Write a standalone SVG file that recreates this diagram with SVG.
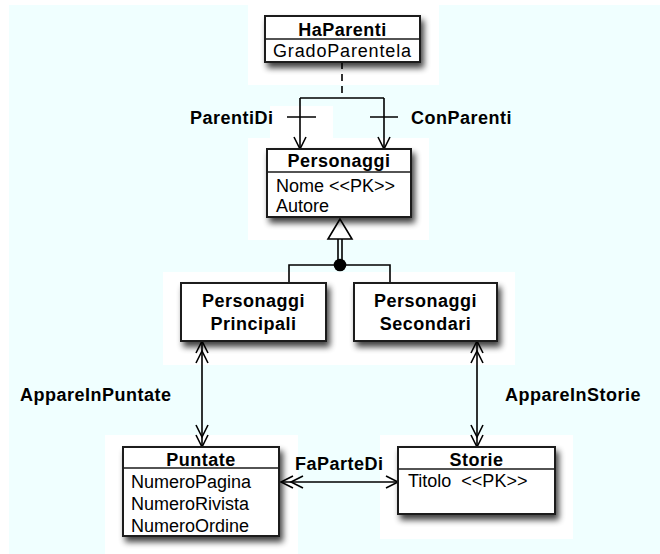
<svg xmlns="http://www.w3.org/2000/svg" width="660" height="554" viewBox="0 0 660 554">
<defs>
<style>
text{font-family:"Liberation Sans",Arial,sans-serif;font-size:18px;fill:#000;white-space:pre}
.b{font-weight:bold;letter-spacing:0.5px}
.c{text-anchor:middle}
.box{fill:#fff;stroke:#1a1a1a;stroke-width:2}
.div{stroke:#1a1a1a;stroke-width:1.6}
.ln{fill:none;stroke:#000;stroke-width:1.6}
.pad{fill:#fff}
</style>
<filter id="sh" x="-20%" y="-20%" width="150%" height="160%">
<feGaussianBlur in="SourceAlpha" stdDeviation="3.2"/>
<feOffset dx="3" dy="5" result="o"/>
<feComponentTransfer><feFuncA type="linear" slope="0.75"/></feComponentTransfer>
<feMerge><feMergeNode/><feMergeNode in="SourceGraphic"/></feMerge>
</filter>
<marker id="open" markerUnits="userSpaceOnUse" markerWidth="26" markerHeight="16" viewBox="-24 -8 26 16" refX="0" refY="0" orient="auto-start-reverse" overflow="visible">
<path d="M-12,-6 L0,0 L-12,6" fill="none" stroke="#000" stroke-width="1.6"/>
</marker>
<marker id="many" markerUnits="userSpaceOnUse" markerWidth="26" markerHeight="16" viewBox="-24 -8 26 16" refX="0" refY="0" orient="auto-start-reverse" overflow="visible">
<path d="M-12,-6 L0,0 L-12,6 M-22,-6 L-10,0 L-22,6" fill="none" stroke="#000" stroke-width="1.6"/>
</marker>
</defs>

<rect x="9" y="5" width="651" height="549" fill="#f0ffff"/>
<g id="pads">
<rect class="pad" x="248" y="0" width="191" height="85"/>
<rect class="pad" x="248" y="138" width="181" height="102"/>
<rect class="pad" x="270" y="106" width="63" height="32"/>
<rect class="pad" x="163" y="272" width="352" height="93"/>
<rect class="pad" x="105" y="435" width="193" height="119"/>
<rect class="pad" x="380" y="435" width="193" height="104"/>
</g>

<g id="connectors">
<path class="ln" d="M342,62 V98" stroke-dasharray="7 5"/>
<path class="ln" d="M300,98 H384"/>
<path class="ln" d="M300,98 V149" marker-end="url(#open)"/>
<path class="ln" d="M384,98 V149" marker-end="url(#open)"/>
<path class="ln" d="M287,117 H316 M370,117 H398"/>
<path class="ln" d="M338,239 V265 M342,239 V265"/>
<polygon points="340,219 328,239 352,239" fill="#fff" stroke="#000" stroke-width="1.6"/>
<circle cx="340" cy="265" r="6.3" fill="#000"/>
<path class="ln" d="M289,283 V265 H390 V283"/>
<path class="ln" d="M202,341 V447" marker-start="url(#many)" marker-end="url(#many)"/>
<path class="ln" d="M477,341 V447" marker-start="url(#many)" marker-end="url(#many)"/>
<path class="ln" d="M281,482 H398" marker-start="url(#many)" marker-end="url(#open)"/>
<text class="b" x="190" y="124">ParentiDi</text>
<text class="b" x="411" y="124">ConParenti</text>
<text class="b" x="20" y="401">AppareInPuntate</text>
<text class="b" x="505" y="401">AppareInStorie</text>
<text class="b" x="295" y="470">FaParteDi</text>
</g>

<g id="HaParenti">
<rect class="box" x="265" y="16" width="155" height="46" filter="url(#sh)"/>
<line class="div" x1="265" y1="39" x2="420" y2="39"/>
<text class="b c" x="342.5" y="35.5">HaParenti</text>
<text x="273" y="57" textLength="138">GradoParentela</text>
</g>

<g id="Personaggi">
<rect class="box" x="267" y="149" width="144" height="68" filter="url(#sh)"/>
<line class="div" x1="267" y1="172" x2="411" y2="172"/>
<text class="b c" x="339" y="166.5">Personaggi</text>
<text x="276" y="191.5">Nome &lt;&lt;PK&gt;&gt;</text>
<text x="276" y="212">Autore</text>
</g>

<g id="PersonaggiPrincipali">
<rect class="box" x="181" y="283" width="145" height="58" filter="url(#sh)"/>
<text class="b c" x="253.5" y="307">Personaggi</text>
<text class="b c" x="253.5" y="330">Principali</text>
</g>

<g id="PersonaggiSecondari">
<rect class="box" x="354" y="283" width="143" height="58" filter="url(#sh)"/>
<text class="b c" x="425.5" y="307">Personaggi</text>
<text class="b c" x="425.5" y="330">Secondari</text>
</g>

<g id="Puntate">
<rect class="box" x="123" y="447" width="156" height="89" filter="url(#sh)"/>
<line class="div" x1="123" y1="468" x2="279" y2="468"/>
<text class="b c" x="201" y="465.5">Puntate</text>
<text x="131" y="488">NumeroPagina</text>
<text x="131" y="510">NumeroRivista</text>
<text x="131" y="531.5">NumeroOrdine</text>
</g>

<g id="Storie">
<rect class="box" x="398" y="447" width="157" height="67" filter="url(#sh)"/>
<line class="div" x1="398" y1="469" x2="555" y2="469"/>
<text class="b c" x="476.5" y="465.5">Storie</text>
<text x="408" y="487">Titolo  &lt;&lt;PK&gt;&gt;</text>
</g>
</svg>
